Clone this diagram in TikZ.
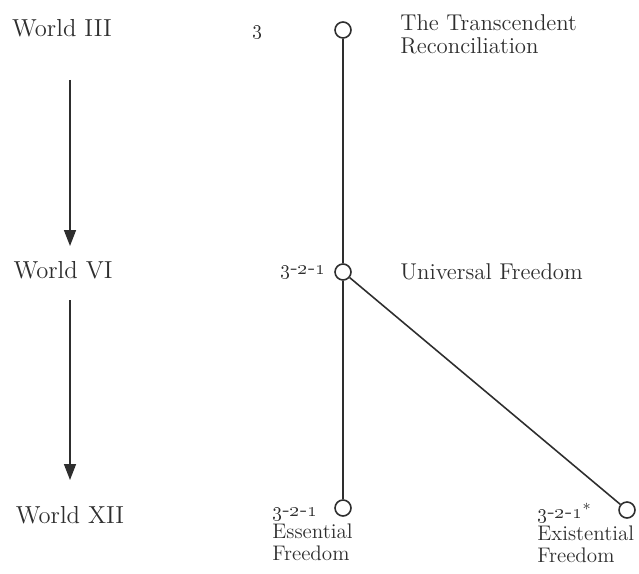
\documentclass[tikz,border=0pt]{standalone}
\usetikzlibrary{arrows.meta,positioning}
\definecolor{InkGray}{HTML}{2E2E2E}
\newcommand{\osn}[1]{\oldstylenums{#1}}
\newcommand{\tri}{\osn{3}-\osn{2}-\osn{1}}
\tikzset{
  label/.style={text=InkGray, font=\fontsize{13}{13}\selectfont, inner sep=0pt, align=left},
  footlabel/.style={text=InkGray, font=\fontsize{12}{12.5}\selectfont, inner sep=0pt, align=left},
  worldlabel/.style={text=InkGray, font=\fontsize{14}{15}\selectfont, inner sep=0pt},
  numlabel/.style={text=InkGray, font=\fontsize{12.5}{13}\selectfont, inner sep=0pt},
  stage/.style={circle, draw=InkGray, line width=0.9pt, fill=white, minimum size=0.32cm, inner sep=0pt},
  link/.style={draw=InkGray, line width=0.9pt},
  worldarrow/.style={-{Triangle[length=3.2mm, width=2.4mm]}, draw=InkGray, line width=0.9pt}
}
\begin{document}
\begin{tikzpicture}[x=0.02cm, y=-0.02cm]
\useasboundingbox (0,0) rectangle (639,574);
% world levels
\node[worldlabel] (w3) at (62,28) {World III};
\node[worldlabel] (w6) at (63,270) {World VI};
\node[worldlabel] (w12) at (70,515) {World XII};
\coordinate (a1s) at (70,80);
\coordinate (a1e) at (70,246);
\coordinate (a2s) at (70,300);
\coordinate (a2e) at (70,480);
\draw[worldarrow] (a1s) -- (a1e);
\draw[worldarrow] (a2s) -- (a2e);
% stages
\node[stage] (c3) at (343,30) {};
\node[stage] (c321) at (343,272) {};
\node[stage] (cess) at (343,508) {};
\node[stage] (cexi) at (627,510) {};
\draw[link] (c3) -- (c321);
\draw[link] (c321) -- (cess);
\draw[link] (c321) -- (cexi);
% labels
\node[numlabel] (n3) at (258,32) {\osn{3}};
\node[label, anchor=west] (t3) at (400,34) {The Transcendent\\Reconciliation};
\node[numlabel, anchor=east] (n321) at (326,272) {\tri};
\node[label, anchor=west] (t321) at (400,272) {Universal Freedom};
\node[numlabel, anchor=south west] (nEss) at (272,521) {\tri};
\node[footlabel, anchor=north west] (tEss) at (272,524) {Essential\\Freedom};
\node[numlabel, anchor=south west] (nExi) at (537,523) {\tri$^{*}$};
\node[footlabel, anchor=north west] (tExi) at (537,526) {Existential\\Freedom};
\end{tikzpicture}
\end{document}
